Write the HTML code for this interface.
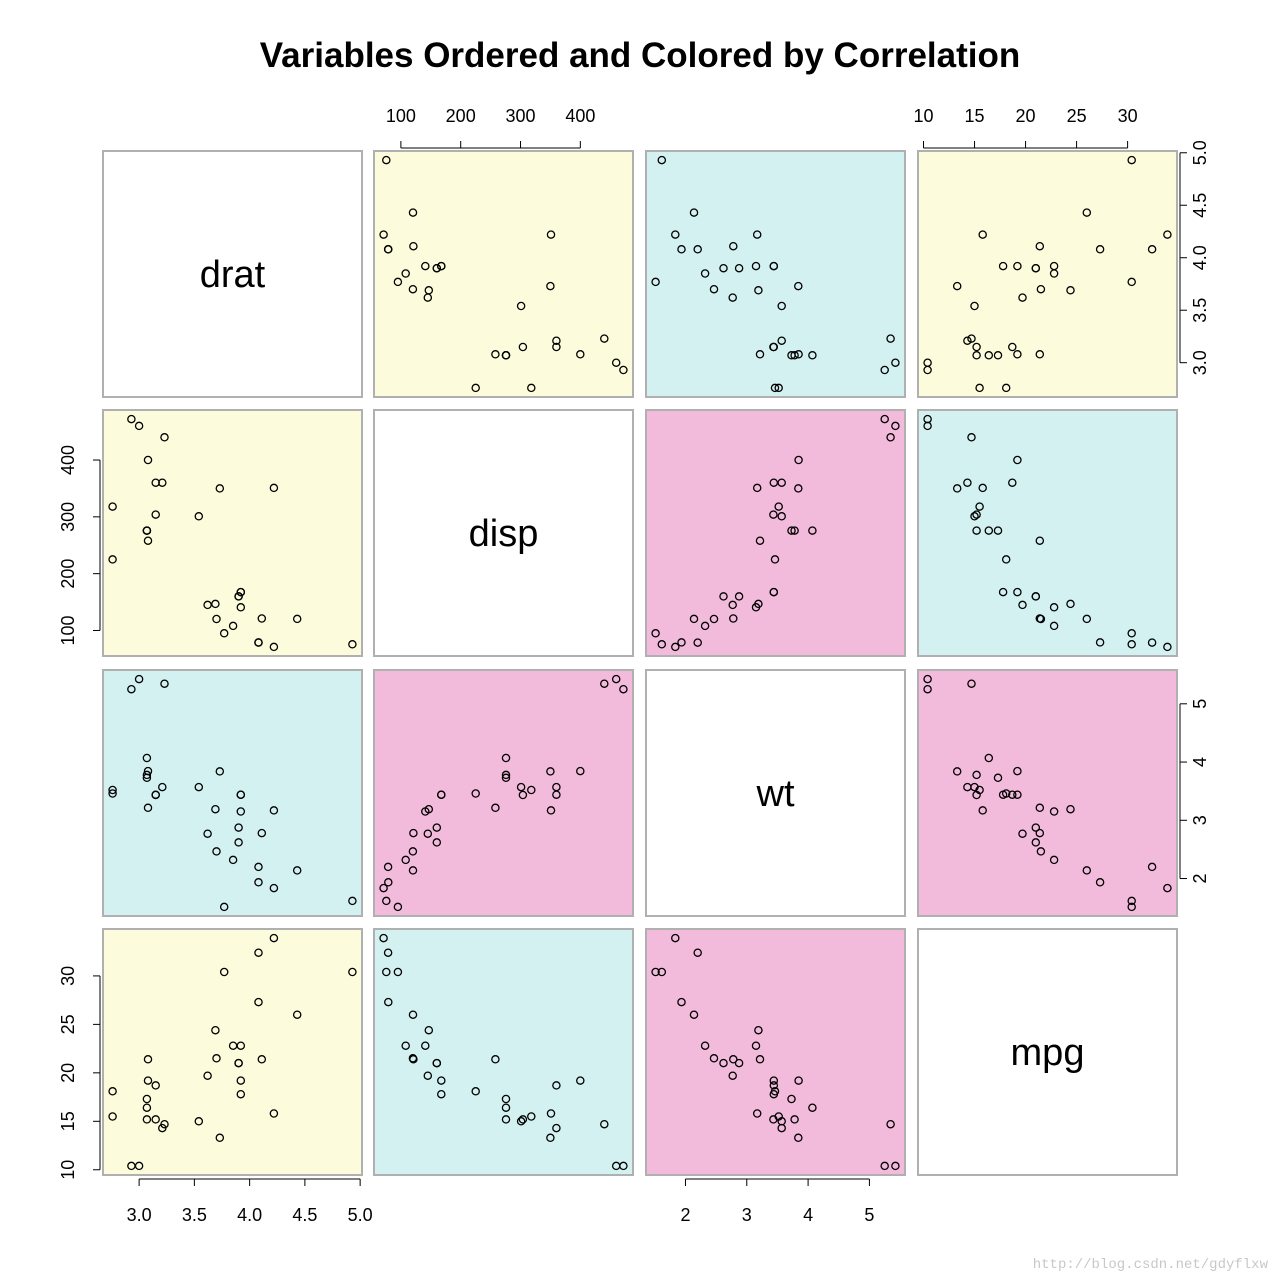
<!DOCTYPE html>
<html><head><meta charset="utf-8"><style>
html,body{margin:0;padding:0;background:#fff;}
svg{display:block;font-family:"Liberation Sans",Arial,sans-serif;}
</style></head><body>
<svg id="s" width="1280" height="1280" xmlns="http://www.w3.org/2000/svg"></svg>
<script>
var D=[[3.90,160,2.620,21.0],[3.90,160,2.875,21.0],[3.85,108,2.320,22.8],[3.08,258,3.215,21.4],[3.15,360,3.440,18.7],[2.76,225,3.460,18.1],[3.21,360,3.570,14.3],[3.69,146.7,3.190,24.4],[3.92,140.8,3.150,22.8],[3.92,167.6,3.440,19.2],[3.92,167.6,3.440,17.8],[3.07,275.8,4.070,16.4],[3.07,275.8,3.730,17.3],[3.07,275.8,3.780,15.2],[2.93,472,5.250,10.4],[3.00,460,5.424,10.4],[3.23,440,5.345,14.7],[4.08,78.7,2.200,32.4],[4.93,75.7,1.615,30.4],[4.22,71.1,1.835,33.9],[3.70,120.1,2.465,21.5],[2.76,318,3.520,15.5],[3.15,304,3.435,15.2],[3.73,350,3.840,13.3],[3.08,400,3.845,19.2],[4.08,79,1.935,27.3],[4.43,120.3,2.140,26.0],[3.77,95.1,1.513,30.4],[4.22,351,3.170,15.8],[3.62,145,2.770,19.7],[3.54,301,3.570,15.0],[4.11,121,2.780,21.4]];
var names=["drat","disp","wt","mpg"];
var Xs=[103,374,646,918],Y0=[151,410,670,929],PW=259,PH=246;
var cols={w:"#ffffff",y:"#fcfcdc",c:"#d3f1f1",p:"#f2bbdc"};
var lay=[["w","y","c","y"],["y","w","p","c"],["c","p","w","p"],["y","c","p","w"]];
var ticks=[[3.0,3.5,4.0,4.5,5.0],[100,200,300,400],[2,3,4,5],[10,15,20,25,30]];
function lbl(v,k){return k==0?v.toFixed(1):String(v);}
var R=[0,1,2,3].map(function(k){var v=D.map(function(d){return d[k];});var a=Math.min.apply(null,v),b=Math.max.apply(null,v),p=(b-a)*0.04;return[a-p,b+p];});
function sx(k,c,v){return Xs[c]+(v-R[k][0])/(R[k][1]-R[k][0])*PW;}
function sy(k,r,v){return Y0[r]+PH-(v-R[k][0])/(R[k][1]-R[k][0])*PH;}
var h='<text x="640" y="67" text-anchor="middle" font-size="35" font-weight="bold">Variables Ordered and Colored by Correlation</text>';
for(var r=0;r<4;r++)for(var c=0;c<4;c++){
 h+='<rect x="'+Xs[c]+'" y="'+Y0[r]+'" width="'+PW+'" height="'+PH+'" fill="'+cols[lay[r][c]]+'" stroke="#b0b0b0" stroke-width="2"/>';
 if(r==c){h+='<text x="'+(Xs[c]+PW/2)+'" y="'+(Y0[r]+PH/2+13)+'" text-anchor="middle" font-size="38">'+names[r]+'</text>';continue;}
 for(var i=0;i<D.length;i++){var d=D[i];h+='<circle cx="'+sx(c,c,d[c]).toFixed(1)+'" cy="'+sy(r,r,d[r]).toFixed(1)+'" r="3.6" fill="none" stroke="#000" stroke-width="1.3"/>';}
}
function hax(k,c,top){var y=top?148:1179,y2=top?141:1186;var xs=ticks[k].map(function(v){return sx(k,c,v);});
 h+='<line x1="'+xs[0]+'" y1="'+y+'" x2="'+xs[xs.length-1]+'" y2="'+y+'" stroke="#000"/>';
 ticks[k].forEach(function(v,i){h+='<line x1="'+xs[i]+'" y1="'+y+'" x2="'+xs[i]+'" y2="'+y2+'" stroke="#000"/><text x="'+xs[i]+'" y="'+(top?122:1221)+'" text-anchor="middle" font-size="18">'+lbl(v,k)+'</text>';});}
function vax(k,r,left){var x=left?100:1180,x2=left?93:1187;var ys=ticks[k].map(function(v){return sy(k,r,v);});
 h+='<line x1="'+x+'" y1="'+ys[0]+'" x2="'+x+'" y2="'+ys[ys.length-1]+'" stroke="#000"/>';
 ticks[k].forEach(function(v,i){var tx=left?74:1206;h+='<line x1="'+x+'" y1="'+ys[i]+'" x2="'+x2+'" y2="'+ys[i]+'" stroke="#000"/><text transform="translate('+tx+','+ys[i]+') rotate(-90)" text-anchor="middle" font-size="18">'+lbl(v,k)+'</text>';});}
hax(1,1,true);hax(3,3,true);hax(0,0,false);hax(2,2,false);
vax(1,1,true);vax(3,3,true);vax(0,0,false);vax(2,2,false);
h+='<text x="1268" y="1268" text-anchor="end" font-size="14" fill="#c8c8c8" font-family="Liberation Mono,monospace">http://blog.csdn.net/gdyflxw</text>';
document.getElementById("s").innerHTML=h;
</script>
</body></html>
